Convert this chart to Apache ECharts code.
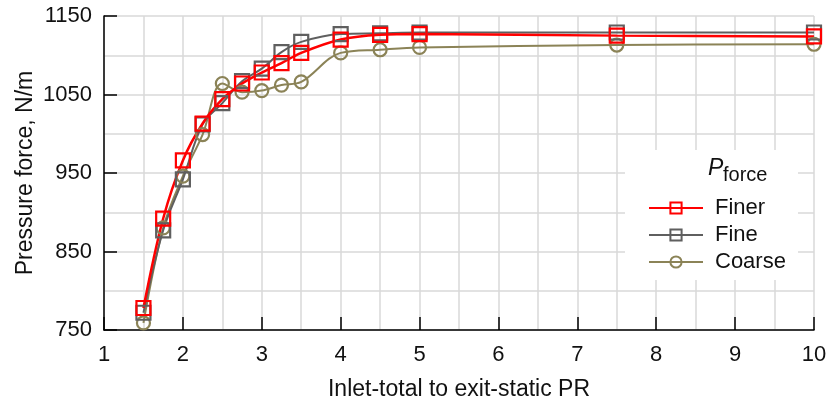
<!DOCTYPE html>
<html>
<head>
<meta charset="utf-8">
<script src="https://cdn.jsdelivr.net/npm/echarts@6/dist/echarts.min.js"></script>
<style>
  html, body { margin: 0; padding: 0; background: #fff; }
  #chart { width: 831px; height: 400px; }
</style>
</head>
<body>
<div id="chart"></div>
<script>
// Pressure ratio sample points (shared by all three meshes)
const pressureRatio = [1.5, 1.75, 2, 2.25, 2.5, 2.75, 3, 3.25, 3.5, 4, 4.5, 5, 7.5, 10];

// Pressure force, N/m, per mesh resolution
const finerForce  = [778, 892, 966, 1013, 1044, 1064, 1078, 1090, 1103, 1120, 1126, 1127, 1125, 1124];
const fineForce   = [772, 877, 942, 1012, 1039, 1067, 1083, 1104, 1117, 1127, 1128, 1129, 1129, 1129];
const coarseForce = [759, 880, 946, 999, 1064, 1053, 1055, 1062, 1066, 1103, 1107, 1110, 1113, 1114];

const seriesNames = ['Finer', 'Fine', 'Coarse'];
const seriesColors = { Finer: '#ff0000', Fine: '#5f5f5f', Coarse: '#8b8357' };

const xTicks = { min: 1, max: 10, step: 1 };
const yTicks = { min: 750, max: 1150, step: 100 };

const FONT = '"Liberation Sans", Arial, Helvetica, sans-serif';

function pairs(ys) {
  return pressureRatio.map((x, i) => [x, ys[i]]);
}

function makeSeries(name, values, symbol, size, lineWidth) {
  const c = seriesColors[name];
  return {
    name: name,
    type: 'line',
    data: pairs(values),
    smooth: 0.35,
    symbol: symbol,
    symbolSize: size,
    lineStyle: { color: c, width: lineWidth },
    itemStyle: { color: 'transparent', borderColor: c, borderWidth: 2.2 },
    emphasis: { disabled: true },
    z: 3
  };
}

const chart = echarts.init(document.getElementById('chart'), null, { renderer: 'canvas' });

const axisCommon = {
  axisLine: { show: true, onZero: false, lineStyle: { color: '#000', width: 1.5 } },
  axisTick: { show: true, inside: true, length: 13, lineStyle: { color: '#000', width: 1.5 } },
  splitLine: { show: true, lineStyle: { color: '#d9d9d9', width: 1.5 } },
  minorTick: { show: false, splitNumber: 2 },
  minorSplitLine: { show: true, lineStyle: { color: '#d9d9d9', width: 1.5 } },
  nameMoveOverlap: false,
  nameTextStyle: { fontFamily: FONT, fontSize: 23, color: '#111' }
};

chart.setOption({
  animation: false,
  backgroundColor: '#fff',
  grid: { left: 104, right: 17, top: 16, bottom: 70, containLabel: false, outerBoundsMode: 'none' },
  xAxis: Object.assign({}, axisCommon, {
    type: 'value',
    min: xTicks.min,
    max: xTicks.max,
    interval: xTicks.step,
    name: 'Inlet-total to exit-static PR',
    nameLocation: 'middle',
    nameGap: 48,
    axisLabel: { fontFamily: FONT, fontSize: 22, color: '#111', margin: 14 }
  }),
  yAxis: Object.assign({}, axisCommon, {
    type: 'value',
    min: yTicks.min,
    max: yTicks.max,
    interval: yTicks.step,
    name: 'Pressure force, N/m',
    nameLocation: 'middle',
    nameRotate: 90,
    nameGap: 67,
    axisLabel: {
      fontFamily: FONT, fontSize: 22, color: '#111', margin: 12,
      formatter: (v) => String(v)
    }
  }),
  legend: {
    data: seriesNames,
    orient: 'vertical',
    left: 648,
    top: 197,
    padding: 0,
    itemWidth: 54,
    itemHeight: 14,
    itemGap: 5,
    textStyle: { fontFamily: FONT, fontSize: 22, color: '#111', padding: [0, 0, 0, 7] },
    selectedMode: false
  },
  graphic: [
    {
      type: 'rect',
      shape: { x: 625, y: 150, width: 173, height: 130 },
      style: { fill: '#fff' },
      z: 1,
      silent: true
    },
    {
      type: 'text',
      x: 708, y: 169,
      style: { text: 'P', fontFamily: FONT, fontSize: 23, fontStyle: 'italic', fill: '#111', verticalAlign: 'middle' },
      z: 5
    },
    {
      type: 'text',
      x: 723, y: 175,
      style: { text: 'force', fontFamily: FONT, fontSize: 20, fill: '#111', verticalAlign: 'middle' },
      z: 5
    }
  ],
  series: [
    makeSeries('Coarse', coarseForce, 'circle', 13, 2),
    makeSeries('Fine', fineForce, 'rect', 14, 2),
    makeSeries('Finer', finerForce, 'rect', 14, 2.5)
  ]
});
</script>
</body>
</html>
